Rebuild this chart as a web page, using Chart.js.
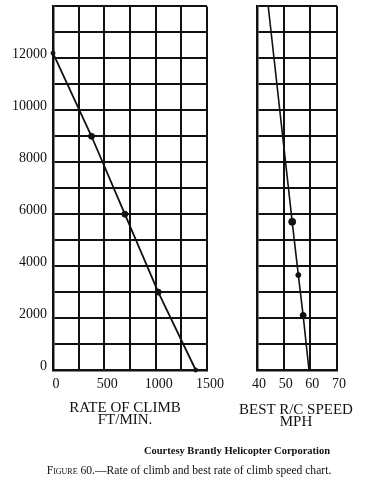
<!DOCTYPE html>
<html>
<head>
<meta charset="utf-8">
<script src="https://cdn.jsdelivr.net/npm/chart.js@4.4.1/dist/chart.umd.min.js"></script>
<style>
  body { margin: 0; background: #fff; width: 372px; height: 486px; position: relative; overflow: hidden;
         font-family: "Liberation Serif", "DejaVu Serif", serif; color: #111; }
  #leftWrap { position: absolute; left: 0; top: -8px; width: 240px; height: 408px; }
  #rightWrap { position: absolute; left: 230px; top: 0; width: 142px; height: 400px; }
  .ttl { position: absolute; text-align: center; font-size: 15px; white-space: nowrap; }
  #courtesy { position: absolute; left: 0; width: 474px; top: 445px; text-align: center;
              font-size: 10.5px; font-weight: bold; line-height: 12px; }
  #caption { position: absolute; left: 0; width: 378px; top: 464px; text-align: center;
             font-size: 11.6px; line-height: 14px; }
  .sc { font-variant: small-caps; }
</style>
</head>
<body>
<div id="leftWrap"><canvas id="climbChart"></canvas></div>
<div id="rightWrap"><canvas id="speedChart"></canvas></div>
<div class="ttl" style="left:45px;width:160px;top:401px;line-height:12px;">RATE OF CLIMB<br>FT/MIN.</div>
<div class="ttl" style="left:216px;width:160px;top:403px;line-height:12px;">BEST R/C SPEED<br>MPH</div>
<div id="courtesy">Courtesy Brantly Helicopter Corporation</div>
<div id="caption"><span class="sc">Figure</span> 60.—Rate of climb and best rate of climb speed chart.</div>
<script>
// rate of climb (ft/min) vs altitude (ft)
const climbRate = [0, 375, 700, 1025, 1390];
const climbAlt = [12200, 9000, 6000, 3000, 0];
// best rate-of-climb speed (mph) vs altitude (ft)
const speedMph = [44.2, 53.2, 55.5, 57.3, 59.5];
const speedAlt = [14000, 5700, 3650, 2100, 0];
// tick labels shown
const altLabels = [0, 2000, 4000, 6000, 8000, 10000, 12000];
const rateLabels = [0, 500, 1000, 1500];
const speedLabels = [40, 50, 60, 70];

const ink = "#111";
const serif = "'Liberation Serif', 'DejaVu Serif', serif";
const gridStyle = { color: ink, lineWidth: 2, drawTicks: false };
const borderStyle = { color: ink, width: 2.5 };

function toPoints(xs, ys) {
  return xs.map((x, i) => ({ x: x, y: ys[i] }));
}

function altAxis(showLabels, width) {
  return {
    type: "linear",
    min: 0,
    max: 14000,
    grid: gridStyle,
    border: borderStyle,
    afterFit: (scale) => { scale.width = width; },
    ticks: {
      display: showLabels,
      stepSize: 1000,
      autoSkip: false,
      padding: 6,
      labelOffset: -4,
      color: ink,
      font: { family: serif, size: 14 },
      callback: (v) => altLabels.includes(v) ? String(v) : ""
    }
  };
}

function baseOptions(xScale, yScale, pad) {
  return {
    responsive: true,
    maintainAspectRatio: false,
    animation: false,
    layout: { padding: pad },
    plugins: { legend: { display: false }, tooltip: { enabled: false } },
    scales: { x: xScale, y: yScale }
  };
}

// ===== Rate of climb =====
new Chart(document.getElementById("climbChart"), {
  type: "scatter",
  data: {
    datasets: [{
      data: toPoints(climbRate, climbAlt),
      showLine: true,
      borderColor: ink,
      borderWidth: 1.8,
      backgroundColor: ink,
      pointRadius: [2, 3, 3, 3, 2],
      pointBorderWidth: 1,
      clip: false
    }]
  },
  options: baseOptions({
    type: "linear",
    min: 0,
    max: 1500,
    grid: gridStyle,
    border: borderStyle,
    afterFit: (scale) => { scale.height = 30; },
    ticks: {
      stepSize: 250,
      autoSkip: false,
      maxRotation: 0,
      padding: 6,
      labelOffset: 3,
      color: ink,
      font: { family: serif, size: 14 },
      callback: (v) => rateLabels.includes(v) ? String(v) : ""
    }
  }, altAxis(true, 53), { left: 0, right: 33, top: 0, bottom: 0 })
});

// ===== Best R/C speed =====
new Chart(document.getElementById("speedChart"), {
  type: "scatter",
  data: {
    datasets: [{
      data: toPoints(speedMph, speedAlt),
      showLine: true,
      borderColor: ink,
      borderWidth: 1.6,
      backgroundColor: ink,
      pointRadius: [0, 3.5, 2.5, 3, 0],
      pointBorderWidth: 1,
      clip: false
    }]
  },
  options: baseOptions({
    type: "linear",
    min: 40,
    max: 70,
    grid: gridStyle,
    border: borderStyle,
    afterFit: (scale) => { scale.height = 30; },
    ticks: {
      stepSize: 10,
      autoSkip: false,
      maxRotation: 0,
      padding: 6,
      labelOffset: 2,
      color: ink,
      font: { family: serif, size: 14 },
      callback: (v) => speedLabels.includes(v) ? String(v) : ""
    }
  }, altAxis(false, 27), { left: 0, right: 35, top: 6, bottom: 0 })
});
</script>
</body>
</html>
